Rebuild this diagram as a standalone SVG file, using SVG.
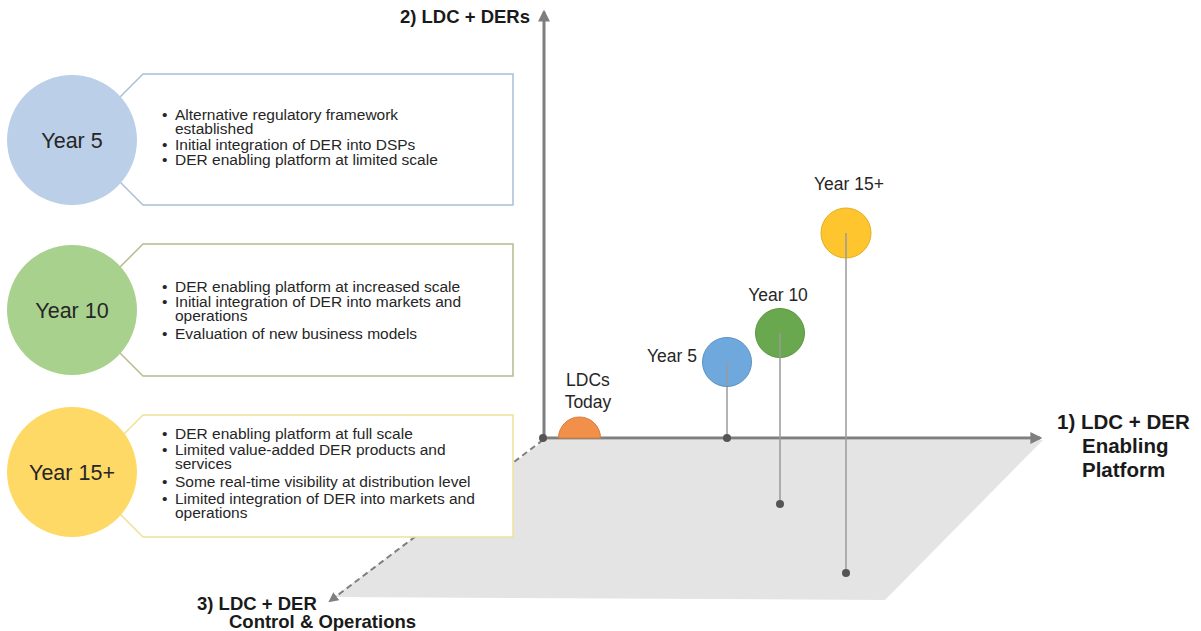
<svg xmlns="http://www.w3.org/2000/svg" width="1201" height="631" viewBox="0 0 1201 631">
<defs>
<style>
.t{font-family:"Liberation Sans",Arial,sans-serif;fill:#262626}
.b{font-size:15.5px}
.big{font-size:21.5px}
.lab{font-size:17.5px}
.ax{font-family:"Liberation Sans",Arial,sans-serif;font-weight:bold;fill:#1a1a1a}
.axis{stroke:#7f7f7f;stroke-width:3;fill:none}
.drop{stroke:#9a9a9a;stroke-width:1.5}
.dot{fill:#555}
</style>
<marker id="ah" viewBox="0 0 10 10" refX="8" refY="5" markerWidth="4" markerHeight="4" orient="auto-start-reverse">
<path d="M0,0 L10,5 L0,10 Z" fill="#7f7f7f"/>
</marker>
<marker id="ah2" viewBox="0 0 10 10" refX="8" refY="5" markerWidth="5" markerHeight="5" orient="auto">
<path d="M0,0 L10,5 L0,10 Z" fill="#7f7f7f"/>
</marker>
</defs>
<rect width="1201" height="631" fill="#fff"/>

<!-- plane -->
<polygon id="plane" points="545,440 1043,440 885,600 334,597" fill="#e4e4e4"/>

<!-- connectors / axes -->
<g id="connectors">
<line class="axis" x1="544" y1="440" x2="544" y2="12" marker-end="url(#ah)"/>
<line class="axis" x1="542" y1="438" x2="1040" y2="438" marker-end="url(#ah)"/>
<line x1="543" y1="440" x2="330" y2="601" stroke="#7f7f7f" stroke-width="2" stroke-dasharray="6,4" marker-end="url(#ah2)"/>
<line class="drop" x1="727" y1="362" x2="727" y2="438"/>
<line class="drop" x1="780" y1="333" x2="780" y2="504"/>
<line class="drop" x1="846" y1="233" x2="846" y2="573"/>
<circle class="dot" cx="543" cy="438" r="4"/>
<circle class="dot" cx="727" cy="438" r="4"/>
<circle class="dot" cx="780" cy="504" r="4"/>
<circle class="dot" cx="846" cy="573" r="4"/>
</g>

<!-- axis labels -->
<text class="ax" x="530" y="23" font-size="18.5" text-anchor="end">2) LDC + DERs</text>
<g id="xlabel" class="ax" font-size="20.5">
<text x="1057" y="429">1) LDC + DER</text>
<text x="1082" y="453">Enabling</text>
<text x="1082" y="477">Platform</text>
</g>
<g id="zlabel" class="ax" font-size="18.5">
<text x="197" y="610">3) LDC + DER</text>
<text x="229" y="628">Control &amp; Operations</text>
</g>

<!-- chart nodes -->
<g id="ldc-today">
<path d="M558.5,438 A21,21 0 0 1 600.5,438 Z" fill="#f0904a" stroke="#d97a38" stroke-width="1"/>
<text class="t lab" x="588" y="386" text-anchor="middle">LDCs</text>
<text class="t lab" x="588" y="408" text-anchor="middle">Today</text>
</g>
<g id="pt-year5">
<circle cx="727" cy="362" r="24.5" fill="#6fa8dc" stroke="#5b93c6" stroke-width="1"/>
<line class="drop" x1="727" y1="362" x2="727" y2="386"/>
<text class="t lab" x="697" y="362" text-anchor="end">Year 5</text>
</g>
<g id="pt-year10">
<circle cx="780" cy="333" r="24.5" fill="#6aa84f" stroke="#5c9742" stroke-width="1"/>
<line class="drop" x1="780" y1="333" x2="780" y2="358"/>
<text class="t lab" x="778" y="301" text-anchor="middle">Year 10</text>
</g>
<g id="pt-year15">
<circle cx="846" cy="233" r="25" fill="#fec52e" stroke="#e3ad22" stroke-width="1"/>
<line class="drop" x1="846" y1="233" x2="846" y2="258"/>
<text class="t lab" x="849" y="190" text-anchor="middle">Year 15+</text>
</g>

<!-- left panels -->
<g id="panel-year5">
<path d="M143,74 H513 V205 H143 L105,167 V112 Z" fill="#fff" stroke="#a9bfd6" stroke-width="1.5"/>
<circle cx="72" cy="140" r="65" fill="#bccfe8"/>
<text class="t big" x="72" y="148" text-anchor="middle">Year 5</text>
<g class="t b">
<text x="162" y="120">•</text><text x="175" y="120">Alternative regulatory framework</text>
<text x="175" y="134">established</text>
<text x="162" y="150">•</text><text x="175" y="150">Initial integration of DER into DSPs</text>
<text x="162" y="165">•</text><text x="175" y="165">DER enabling platform at limited scale</text>
</g>
</g>

<g id="panel-year10">
<path d="M143,244 H513 V376 H143 L105,338 V282 Z" fill="#fff" stroke="#b8bb8c" stroke-width="1.5"/>
<circle cx="72" cy="310" r="65" fill="#a9d18e"/>
<text class="t big" x="72" y="318" text-anchor="middle">Year 10</text>
<g class="t b">
<text x="162" y="292">•</text><text x="175" y="292">DER enabling platform at increased scale</text>
<text x="162" y="307">•</text><text x="175" y="307">Initial integration of DER into markets and</text>
<text x="175" y="321">operations</text>
<text x="162" y="339">•</text><text x="175" y="339">Evaluation of new business models</text>
</g>
</g>

<g id="panel-year15">
<path d="M143,415 H513 V537 H143 L105,499 V453 Z" fill="#fff" stroke="#efe19c" stroke-width="1.5"/>
<circle cx="72" cy="472" r="65" fill="#ffd966"/>
<text class="t big" x="72" y="480" text-anchor="middle">Year 15+</text>
<g class="t b">
<text x="162" y="439">•</text><text x="175" y="439">DER enabling platform at full scale</text>
<text x="162" y="455">•</text><text x="175" y="455">Limited value-added DER products and</text>
<text x="175" y="469">services</text>
<text x="162" y="487">•</text><text x="175" y="487">Some real-time visibility at distribution level</text>
<text x="162" y="504">•</text><text x="175" y="504">Limited integration of DER into markets and</text>
<text x="175" y="518">operations</text>
</g>
</g>
</svg>
